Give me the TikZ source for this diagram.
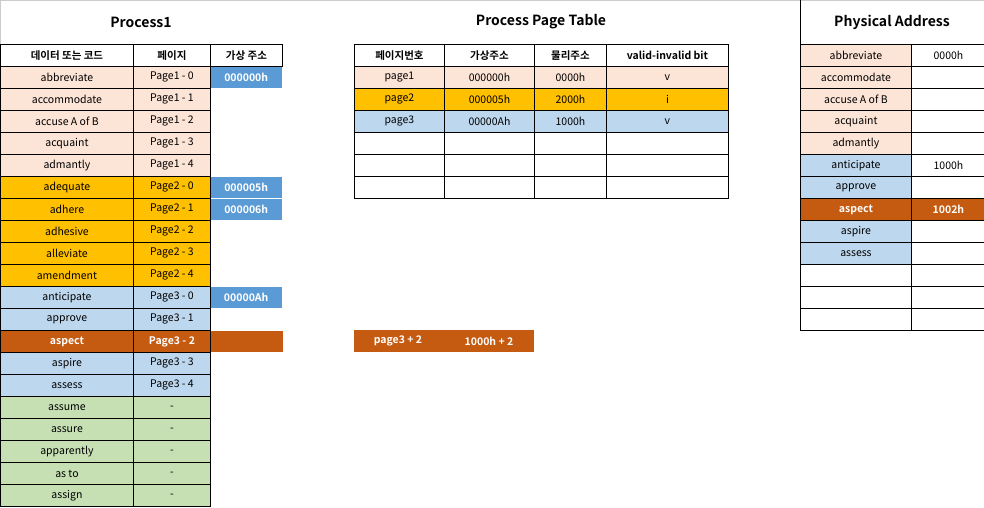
\documentclass[tikz,border=0pt]{standalone}
\usepackage{fontspec}
\setmainfont{Noto Sans CJK KR}[BoldFont={Noto Sans CJK KR Bold}]
\definecolor{peach}{HTML}{FCE4D6}
\definecolor{gold}{HTML}{FFC000}
\definecolor{lblue}{HTML}{BDD7EE}
\definecolor{lgreen}{HTML}{C6E0B4}
\definecolor{dorange}{HTML}{C55A11}
\definecolor{mblue}{HTML}{5B9BD5}
\tikzset{
 cell/.style={draw=black,line width=0.9pt,anchor=north west,inner sep=0pt,minimum height=22pt,font=\fontsize{10.5}{12}\selectfont},
 plain/.style={anchor=north west,inner sep=0pt,minimum height=22pt,font=\fontsize{10.5}{12}\selectfont},
 hot/.style={text=white,font=\fontsize{10.5}{12}\selectfont\bfseries},
 title/.style={font=\fontsize{14}{16}\selectfont\bfseries},
 hdr/.style={font=\fontsize{10.5}{12}\selectfont\bfseries}
}
\begin{document}
\begin{tikzpicture}[x=1pt,y=-1pt]
\useasboundingbox (0,0) rectangle (984,507);
\draw[gray!40,line width=1.5pt] (0,0) -- (984,0) (0,0) -- (0,507);
% titles
\node[title] (t1) at (141,22) {Process1};
\node[title] (t2) at (541,22) {Process Page Table};
\node[title] (t3) at (892,22) {Physical Address};
% left table header
\node[cell,hdr,minimum width=133pt] (lh1) at (0,44) {데이터 또는 코드};
\node[cell,hdr,minimum width=77pt] (lh2) at (133,44) {페이지};
\node[cell,hdr,minimum width=72pt] (lh3) at (210,44) {가상 주소};
% left rows
\foreach \i/\w/\p/\c in {1/abbreviate/Page1 - 0/peach,2/accommodate/Page1 - 1/peach,3/accuse A of B/Page1 - 2/peach,4/acquaint/Page1 - 3/peach,5/admantly/Page1 - 4/peach,
 6/adequate/Page2 - 0/gold,7/adhere/Page2 - 1/gold,8/adhesive/Page2 - 2/gold,9/alleviate/Page2 - 3/gold,10/amendment/Page2 - 4/gold,
 11/anticipate/Page3 - 0/lblue,12/approve/Page3 - 1/lblue,14/aspire/Page3 - 3/lblue,15/assess/Page3 - 4/lblue,
 16/assume/-/lgreen,17/assure/-/lgreen,18/apparently/-/lgreen,19/as to/-/lgreen,20/assign/-/lgreen}{
 \node[cell,fill=\c,minimum width=133pt] (la\i) at (0,{66+22*(\i-1)}) {\w};
 \node[cell,fill=\c,minimum width=77pt] (lb\i) at (133,{66+22*(\i-1)}) {\p};
}
\node[cell,fill=dorange,hot,minimum width=133pt] (la13) at (0,330) {aspect};
\node[cell,fill=dorange,hot,minimum width=77pt] (lb13) at (133,330) {Page3 - 2};
\node[plain,fill=dorange,minimum width=72pt,minimum height=21pt] (lc13) at (210.5,330.5) {};
\foreach \i/\t in {1/000000h,6/000005h,7/000006h,11/00000Ah}{
 \node[plain,fill=mblue,hot,minimum width=71pt,minimum height=21pt] (lc\i) at (210.5,{66.5+22*(\i-1)}) {\t};
}
% middle table
\node[cell,hdr,minimum width=90pt] (mh1) at (354,44) {페이지번호};
\node[cell,hdr,minimum width=90pt] (mh2) at (444,44) {가상주소};
\node[cell,hdr,minimum width=72pt] (mh3) at (534,44) {물리주소};
\node[cell,hdr,minimum width=122pt] (mh4) at (606,44) {valid-invalid bit};
\foreach \i/\a/\b/\cc/\d/\c in {1/page1/000000h/0000h/v/peach,2/page2/000005h/2000h/i/gold,3/page3/00000Ah/1000h/v/lblue,4/ / / / /white,5/ / / / /white,6/ / / / /white}{
 \node[cell,fill=\c,minimum width=90pt] (ma\i) at (354,{66+22*(\i-1)}) {\a};
 \node[cell,fill=\c,minimum width=90pt] (mb\i) at (444,{66+22*(\i-1)}) {\b};
 \node[cell,fill=\c,minimum width=72pt] (mc\i) at (534,{66+22*(\i-1)}) {\cc};
 \node[cell,fill=\c,minimum width=122pt] (md\i) at (606,{66+22*(\i-1)}) {\d};
}
\node[plain,fill=dorange,minimum width=180pt] (band) at (354,330) {};
\node[hot] (bx1) at (398,341) {page3 + 2};
\node[hot] (bx2) at (489,341) {1000h + 2};
% right table
\draw[line width=0.9pt] (800,0) -- (800,44) -- (984,44);
\foreach \i/\w/\v/\c in {1/abbreviate/0000h/peach,2/accommodate/ /peach,3/accuse A of B/ /peach,4/acquaint/ /peach,5/admantly/ /peach,
 6/anticipate/1000h/lblue,7/approve/ /lblue,9/aspire/ /lblue,10/assess/ /lblue,11/ / /white,12/ / /white,13/ / /white}{
 \node[cell,fill=\c,minimum width=111pt] (ra\i) at (800,{44+22*(\i-1)}) {\w};
 \node[cell,fill=white,minimum width=74pt] (rb\i) at (911,{44+22*(\i-1)}) {\v};
}
\node[cell,fill=dorange,hot,minimum width=111pt] (ra8) at (800,198) {aspect};
\node[cell,fill=dorange,hot,minimum width=74pt] (rb8) at (911,198) {1002h};
\end{tikzpicture}
\end{document}
